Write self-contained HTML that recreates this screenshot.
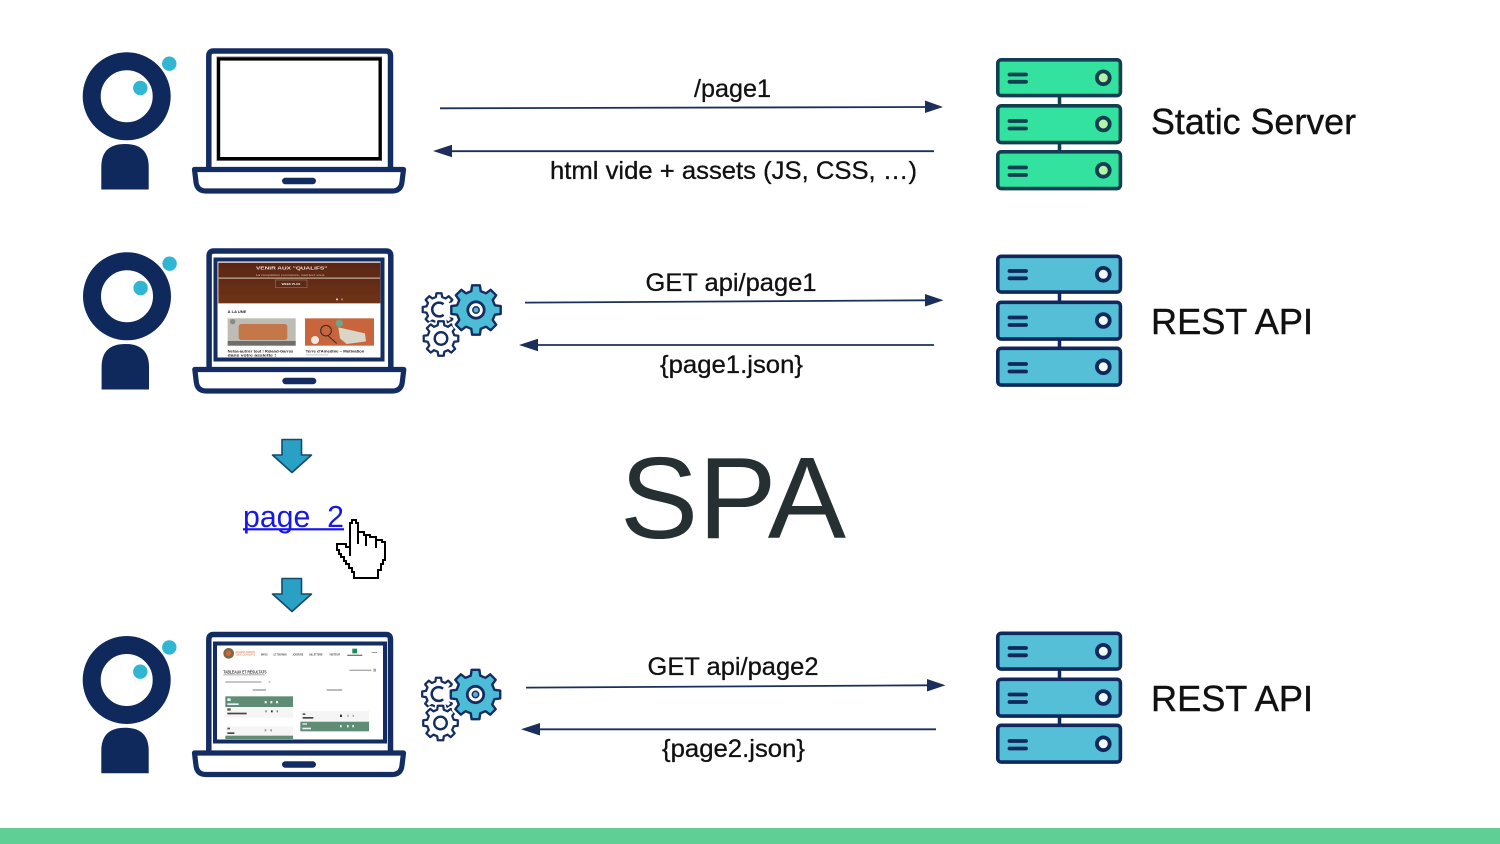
<!DOCTYPE html>
<html><head><meta charset="utf-8"><title>SPA</title>
<style>
html,body{margin:0;padding:0;background:#fff;width:1500px;height:844px;overflow:hidden}
svg{display:block}
text{font-family:"Liberation Sans",sans-serif}
.l{font-size:25px;fill:#111;stroke:#111;stroke-width:.3}
.b{font-size:36px;fill:#111;stroke:#111;stroke-width:.4}
</style></head><body>
<svg width="1500" height="844" viewBox="0 0 1500 844" xmlns="http://www.w3.org/2000/svg">
<defs>
<filter id="bl" x="-5%" y="-5%" width="110%" height="110%"><feGaussianBlur stdDeviation="0.5"/></filter>
<linearGradient id="hero" x1="0" y1="0" x2="0" y2="1"><stop offset="0" stop-color="#5a2712"/><stop offset="1" stop-color="#6e3219"/></linearGradient>
<g id="person">
<circle cx="126.7" cy="96.3" r="35" fill="none" stroke="#10295c" stroke-width="18"/>
<circle cx="140.3" cy="88" r="7.2" fill="#2eb6d2"/>
<circle cx="169.3" cy="63.7" r="7.2" fill="#2eb6d2"/>
<path d="M101.3 189.5V167Q101.3 144 125 144Q148.7 144 148.7 167V189.5Z" fill="#10295c"/>
</g>
<g id="laptop" fill="none" stroke="#132d62">
<path d="M208.8 168V56Q208.8 51 213.5 51H386Q390.5 51 390.5 56V168" stroke-width="5.5"/>
<path d="M194.5 169.5H403.5L402 182Q401 191 392 191H206Q197 191 196 182Z" stroke-width="5.2" fill="#fff" stroke-linejoin="round"/>
<rect x="282" y="177.8" width="34" height="6.4" rx="3.2" fill="#132d62" stroke="none"/>
</g>
<g id="srv">
<path d="M1059.5 96V152" stroke-width="3.5" fill="none"/>
<rect x="997.8" y="59.8" width="122.6" height="35.8" rx="3.5" stroke-width="3.6"/>
<rect x="997.8" y="105.8" width="122.6" height="36.8" rx="3.5" stroke-width="3.6"/>
<rect x="997.8" y="151.8" width="122.6" height="36.8" rx="3.5" stroke-width="3.6"/>
<g stroke-width="3.8" fill="none" stroke-linecap="round">
<path d="M1009.5 74.5H1026M1009.5 81.8H1026M1009.5 121H1026M1009.5 128.5H1026M1009.5 167.5H1026M1009.5 175H1026"/>
</g>
<g stroke-width="3.8">
<circle cx="1103.3" cy="77.8" r="6.4" fill="var(--c)"/>
<circle cx="1103.3" cy="124" r="6.4" fill="var(--c)"/>
<circle cx="1103.3" cy="170.3" r="6.4" fill="var(--c)"/>
</g>
</g>
<polygon id="gp" points="18.9,-4.7 24.7,-3.9 24.7,3.9 18.9,4.7 16.7,10 20.2,14.7 14.7,20.2 10,16.7 4.7,18.9 3.9,24.7 -3.9,24.7 -4.7,18.9 -10,16.7 -14.7,20.2 -20.2,14.7 -16.7,10 -18.9,4.7 -24.7,3.9 -24.7,-3.9 -18.9,-4.7 -16.7,-10 -20.2,-14.7 -14.7,-20.2 -10,-16.7 -4.7,-18.9 -3.9,-24.7 3.9,-24.7 4.7,-18.9 10,-16.7 14.7,-20.2 20.2,-14.7 16.7,-10"/>
<g id="gears">
<g transform="translate(439 309.5) scale(.66)" fill="#fff" stroke="#132d62" stroke-width="3.4" stroke-linejoin="round">
<use href="#gp"/>
<path d="M7 -8A10.5 10.5 0 1 0 7 8" fill="none" stroke-width="3.8"/>
</g>
<g transform="translate(441 338.5) scale(.7)" stroke-linejoin="round">
<use href="#gp" fill="#fff" stroke="#fff" stroke-width="8"/>
<use href="#gp" fill="#fff" stroke="#132d62" stroke-width="3.2"/>
<circle r="9" fill="#fff" stroke="#132d62" stroke-width="3.4"/>
</g>
<g transform="translate(476 310)" stroke="#132d62" stroke-linejoin="round">
<use href="#gp" fill="#fff" stroke="#fff" stroke-width="7"/>
<use href="#gp" fill="#4dbcd6" stroke-width="2.4"/>
<circle r="8.2" fill="#fff" stroke-width="2.8"/>
<circle r="3.2" fill="#5cb3d0" stroke-width="1.5"/>
</g>
</g>
<g id="down">
<polygon points="282,439.5 301.5,439.5 301.5,455 311.5,455 292,472.5 272.5,455 282,455" fill="#2aa0c4" stroke="#134a6e" stroke-width="1.6" stroke-linejoin="round"/>
</g>
</defs>

<rect width="1500" height="844" fill="#fff"/>
<rect x="0" y="828" width="1500" height="16" fill="#5fcf96"/>

<!-- Row 1 -->
<use href="#person"/>
<use href="#laptop"/>
<rect x="217.5" y="57.5" width="163.5" height="102.5" fill="#fff" stroke="#777" stroke-width="2"/>
<rect x="218.6" y="59" width="161.5" height="99.6" fill="#fff" stroke="#000" stroke-width="3.2"/>
<g stroke="#1b2f5c" stroke-width="1.8" fill="#1b2f5c">
<path d="M440 108.3L926 107" fill="none"/>
<polygon points="925,100.5 943,107 925,113" stroke="none"/>
<path d="M934 151.2H450" fill="none"/>
<polygon points="452,144.8 433,151 452,157.2" stroke="none"/>
</g>
<text class="l" x="694" y="97" textLength="77" lengthAdjust="spacingAndGlyphs">/page1</text>
<text class="l" x="550" y="179" textLength="367" lengthAdjust="spacingAndGlyphs">html vide + assets (JS, CSS, …)</text>
<g style="--c:#b5f3a6" fill="#33e29f" stroke="#0f3f50"><use href="#srv"/></g>
<text class="b" x="1151" y="134" textLength="205" lengthAdjust="spacingAndGlyphs">Static Server</text>

<!-- Row 2 -->
<g transform="translate(.3 200)"><use href="#person"/></g>
<g transform="translate(.3 200)"><use href="#laptop"/></g>
<rect x="215.5" y="259.5" width="167" height="100" fill="#fff" stroke="#132d62" stroke-width="4"/>
<g transform="translate(190 240) scale(.33333)" filter="url(#bl)">
<rect x="85" y="68" width="486" height="122" fill="url(#hero)"/>
<rect x="85" y="112" width="486" height="5" fill="#a98a74"/>
<text x="198" y="88" font-size="14" font-weight="bold" fill="#f0e4dc" textLength="214" lengthAdjust="spacingAndGlyphs">VENIR AUX "QUALIFS"</text>
<text x="198" y="108" font-size="9" fill="#d8c0b0" textLength="208" lengthAdjust="spacingAndGlyphs">La compétition commence, inscrivez-vous.</text>
<rect x="256" y="120" width="95" height="23" fill="#5c2b18" stroke="#a58775" stroke-width="1.5"/>
<text x="275" y="135" font-size="9" font-weight="bold" fill="#eee" textLength="56" lengthAdjust="spacingAndGlyphs">WEEK PLUS</text>
<circle cx="441" cy="178" r="3" fill="#ddd"/><circle cx="456" cy="178" r="3" fill="#a88"/>
<text x="113" y="219" font-size="11" font-weight="bold" fill="#222" textLength="56" lengthAdjust="spacingAndGlyphs">À LA UNE</text>
<rect x="113" y="235" width="204" height="82" fill="#bdbdb6"/>
<rect x="146" y="252" width="146" height="48" rx="8" fill="#c4774a"/>
<circle cx="128" cy="245" r="8" fill="#8a8a80"/>
<rect x="113" y="303" width="204" height="14" fill="#6e6e6a"/>
<rect x="345" y="235" width="207" height="82" fill="#c8653c"/>
<path d="M445 262L525 280L528 304L470 312L450 295Z" fill="#d9d6c8"/>
<circle cx="448" cy="250" r="11" fill="#6fa58a"/>
<circle cx="408" cy="272" r="16" fill="none" stroke="#2c2c2c" stroke-width="3"/>
<path d="M415 288L440 310" stroke="#2c2c2c" stroke-width="3"/>
<circle cx="375" cy="300" r="12" fill="#f2e8e0"/>
<text x="113" y="337" font-size="11" font-weight="bold" fill="#222" textLength="197" lengthAdjust="spacingAndGlyphs">Nelsa-autrier tout ! Roland-Garros</text>
<text x="113" y="349" font-size="11" font-weight="bold" fill="#222" textLength="145" lengthAdjust="spacingAndGlyphs">dans votre assiette !</text>
<text x="347" y="337" font-size="11" font-weight="bold" fill="#222" textLength="176" lengthAdjust="spacingAndGlyphs">Terre d'Amedine – Motivation</text>
<rect x="347" y="342" width="68" height="5" fill="#ddd"/>
</g>
<use href="#gears"/>
<g stroke="#1b2f5c" stroke-width="1.8" fill="#1b2f5c">
<path d="M525 302.6L926 300.3" fill="none"/>
<polygon points="925,294 943.5,300.2 925,306.5" stroke="none"/>
<path d="M934 345H535" fill="none"/>
<polygon points="538,338.8 519,345 538,351.2" stroke="none"/>
</g>
<text class="l" x="645.5" y="291" textLength="171" lengthAdjust="spacingAndGlyphs">GET api/page1</text>
<text class="l" x="660" y="373" textLength="143" lengthAdjust="spacingAndGlyphs">{page1.json}</text>
<g transform="translate(0 196.5)" style="--c:#f1fbfd" fill="#55bfd8" stroke="#10295c"><use href="#srv"/></g>
<text class="b" x="1151" y="334" textLength="162" lengthAdjust="spacingAndGlyphs">REST API</text>

<!-- Middle -->
<use href="#down"/>
<g transform="translate(0 139)"><use href="#down"/></g>
<text x="243" y="527" font-size="31" fill="#1818e6" xml:space="preserve" textLength="101" lengthAdjust="spacingAndGlyphs">page  2</text>
<rect x="243" y="528.2" width="101" height="2.2" fill="#1818e6"/>
<g shape-rendering="crispEdges">
<polygon points="350,523 352,523 352,520 356,520 356,523 358,523 358,532 364,532 364,535 370,535 370,537 376,537 376,540 382,540 382,542 385,542 385,560 383,560 383,564 381,564 381,570 378,570 378,578 354,578 354,572 352,572 352,568 349,568 349,564 346,564 346,561 344,561 344,557 341,557 341,554 339,554 339,550 337,550 337,544 346,544 346,547 350,547" fill="#fff" stroke="#000" stroke-width="2" stroke-linejoin="miter"/>
<path d="M358 532V544M366 535V546M376 538V548M350 547V556" stroke="#000" stroke-width="2" fill="none"/>
</g>
<text x="620" y="538" font-size="116" fill="#263033" textLength="226" lengthAdjust="spacingAndGlyphs">SPA</text>

<!-- Row 3 -->
<g transform="translate(0 583.7)"><use href="#person"/></g>
<g transform="translate(0 583.5)"><use href="#laptop"/></g>
<rect x="215" y="643.5" width="170" height="98" fill="#fff" stroke="#132d62" stroke-width="4"/>
<g transform="translate(190 625) scale(.33333)" filter="url(#bl)">
<circle cx="116" cy="85" r="16" fill="#7d6a45"/><circle cx="116" cy="85" r="8" fill="#d0683a"/>
<text x="137" y="84" font-size="8" fill="#d0683a" textLength="58" lengthAdjust="spacingAndGlyphs">ROLAND GARROS</text>
<text x="137" y="92" font-size="8" fill="#d0683a" textLength="58" lengthAdjust="spacingAndGlyphs">DES QUALIFS</text>
<g font-size="9" font-weight="bold" fill="#444">
<text x="213" y="91" textLength="20" lengthAdjust="spacingAndGlyphs">INFOS</text>
<text x="250" y="91" textLength="40" lengthAdjust="spacingAndGlyphs">LE TOURNOI</text>
<text x="307" y="91" textLength="33" lengthAdjust="spacingAndGlyphs">JOUEURS</text>
<text x="358" y="91" textLength="40" lengthAdjust="spacingAndGlyphs">BILLETTERIE</text>
<text x="418" y="91" textLength="32" lengthAdjust="spacingAndGlyphs">VISITEUR</text>
</g>
<rect x="487" y="71" width="14" height="14" fill="#1d8a5a"/>
<rect x="472" y="89" width="45" height="4" fill="#777"/>
<rect x="545" y="81" width="16" height="3" fill="#999"/>
<text x="100" y="145" font-size="13" font-weight="bold" fill="#333" textLength="130" lengthAdjust="spacingAndGlyphs">TABLEAUX ET RÉSULTATS</text>
<rect x="100" y="149" width="124" height="1.5" fill="#555"/>
<rect x="478" y="134" width="66" height="4" fill="#aaa"/>
<rect x="550" y="131" width="8" height="9" fill="#aaa"/>
<rect x="106" y="169" width="108" height="4" fill="#aaa"/>
<rect x="236" y="169" width="5" height="4" fill="#aaa"/>
<rect x="188" y="193" width="40" height="4" fill="#999"/>
<rect x="410" y="193" width="46" height="4" fill="#999"/>
<rect x="106" y="214" width="203" height="32" fill="#5f8c75"/>
<rect x="112" y="220" width="10" height="8" fill="#dfe"/><rect x="112" y="235" width="34" height="5" fill="#eef"/>
<rect x="224" y="228" width="6" height="7" fill="#eee"/><rect x="241" y="228" width="6" height="7" fill="#eee"/><rect x="258" y="228" width="6" height="7" fill="#eee"/>
<rect x="106" y="248" width="203" height="30" fill="#f5f5f5"/>
<rect x="112" y="250" width="10" height="7" fill="#555"/><rect x="112" y="263" width="58" height="5" fill="#444"/>
<rect x="226" y="256" width="4" height="6" fill="#777"/><rect x="243" y="256" width="5" height="6" fill="#333"/><rect x="260" y="256" width="4" height="6" fill="#777"/>
<rect x="106" y="304" width="203" height="28" fill="#f5f5f5"/>
<rect x="112" y="308" width="8" height="5" fill="#555"/><rect x="112" y="322" width="21" height="5" fill="#444"/>
<rect x="224" y="313" width="5" height="6" fill="#999"/><rect x="241" y="313" width="5" height="6" fill="#999"/>
<rect x="106" y="332" width="203" height="10" fill="#5f8c75"/>
<rect x="331" y="258" width="206" height="30" fill="#f5f5f5"/>
<rect x="338" y="265" width="8" height="5" fill="#555"/><rect x="338" y="276" width="32" height="5" fill="#444"/>
<rect x="450" y="269" width="6" height="7" fill="#333"/><rect x="472" y="269" width="4" height="7" fill="#aaa"/><rect x="488" y="269" width="4" height="7" fill="#aaa"/>
<rect x="331" y="290" width="206" height="29" fill="#5f8c75"/>
<rect x="337" y="295" width="14" height="4" fill="#eee"/><rect x="337" y="308" width="26" height="5" fill="#eee"/>
<rect x="450" y="300" width="5" height="7" fill="#eee"/><rect x="471" y="300" width="5" height="7" fill="#eee"/><rect x="487" y="300" width="5" height="7" fill="#eee"/>
</g>
<g transform="translate(-.5 384.5)"><use href="#gears"/></g>
<g stroke="#1b2f5c" stroke-width="1.8" fill="#1b2f5c">
<path d="M526 687.6L928 685.3" fill="none"/>
<polygon points="927,679 945.5,685.2 927,691.5" stroke="none"/>
<path d="M936 729.3H537" fill="none"/>
<polygon points="540,723 521,729.3 540,735.5" stroke="none"/>
</g>
<text class="l" x="647.5" y="675" textLength="171" lengthAdjust="spacingAndGlyphs">GET api/page2</text>
<text class="l" x="662" y="757" textLength="143" lengthAdjust="spacingAndGlyphs">{page2.json}</text>
<g transform="translate(0 573.5)" style="--c:#f1fbfd" fill="#55bfd8" stroke="#10295c"><use href="#srv"/></g>
<text class="b" x="1151" y="711" textLength="162" lengthAdjust="spacingAndGlyphs">REST API</text>
</svg>
</body></html>
